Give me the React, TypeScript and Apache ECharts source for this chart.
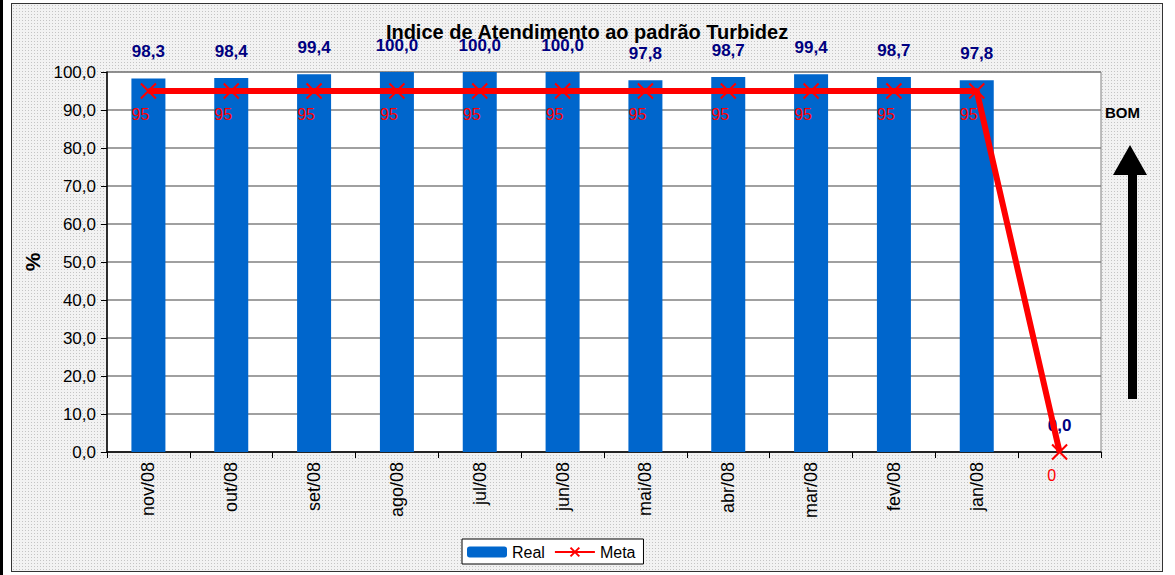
import React, { useEffect, useRef } from "react";
import * as echarts from "echarts";

const categories = ["nov/08", "out/08", "set/08", "ago/08", "jul/08", "jun/08", "mai/08", "abr/08", "mar/08", "fev/08", "jan/08", ""];
const realValues = [98.3, 98.4, 99.4, 100.0, 100.0, 100.0, 97.8, 98.7, 99.4, 98.7, 97.8, 0.0];
const metaValues = [95, 95, 95, 95, 95, 95, 95, 95, 95, 95, 95, 0];
const chartTitle = "Indice de Atendimento ao padrão Turbidez";

const FONT = "'Liberation Sans', Arial, sans-serif";
const fmt1 = (v: number) => Number(v).toFixed(1).replace(".", ",");

export default function App() {
  const ref = useRef<HTMLDivElement>(null);
  useEffect(() => {
    if (!ref.current) return;
    const chart = echarts.init(ref.current, undefined, { renderer: "svg" });
    chart.setOption({
      animation: false,
      backgroundColor: "transparent",
      textStyle: { fontFamily: FONT },
      title: {
        text: chartTitle,
        left: 587,
        textAlign: "center",
        top: 22,
        padding: 0,
        textStyle: { fontFamily: FONT, fontSize: 20, fontWeight: "bold", color: "#000" },
        z: 10,
      },
      legend: {
        left: 462,
        top: 539,
        padding: [5, 8, 4, 5],
        itemWidth: 40,
        itemHeight: 11,
        itemGap: 9,
        borderColor: "#000",
        borderWidth: 1,
        backgroundColor: "#fff",
        textStyle: { fontFamily: FONT, fontSize: 16, color: "#000", padding: [0, 0, 0, 0] },
        data: ["Real", "Meta"],
      },
      grid: {
        left: 107,
        right: 74,
        top: 72,
        bottom: 123,
        show: true,
        backgroundColor: "#fff",
        borderColor: "#808080",
        borderWidth: 1,
      },
      xAxis: {
        type: "category",
        data: categories,
        boundaryGap: true,
        axisLine: { lineStyle: { color: "#000", width: 1.5 } },
        axisTick: { show: true, alignWithLabel: false, length: 6, lineStyle: { color: "#000" } },
        axisLabel: {
          rotate: 90,
          interval: 0,
          margin: 10,
          fontFamily: FONT,
          fontSize: 18,
          color: "#000",
        },
      },
      yAxis: {
        type: "value",
        min: 0,
        max: 100,
        interval: 10,
        name: "%",
        nameLocation: "middle",
        nameRotate: 90,
        nameGap: 64,
        nameTextStyle: { fontFamily: FONT, fontSize: 21, fontWeight: "bold", color: "#000" },
        axisLine: { show: true, lineStyle: { color: "#000", width: 1.5 } },
        axisTick: { show: true, inside: false, length: 6, lineStyle: { color: "#000" } },
        axisLabel: {
          formatter: (v: number) => fmt1(v),
          fontFamily: FONT,
          fontSize: 17,
          color: "#000",
          margin: 11,
        },
        splitLine: { show: true, lineStyle: { color: "#808080", width: 1.5 } },
      },
      series: [
        {
          name: "Real",
          type: "bar",
          data: realValues,
          barWidth: 34,
          itemStyle: { color: "#0066CC" },
          label: {
            show: true,
            position: "top",
            distance: 18,
            formatter: (p: any) => fmt1(p.value),
            fontFamily: FONT,
            fontSize: 17,
            fontWeight: "bold",
            color: "#000080",
          },
          z: 2,
        },
        {
          name: "Meta",
          type: "line",
          data: metaValues,
          symbol: "path://M0,0L10,10M10,0L0,10",
          symbolSize: 15,
          showSymbol: true,
          lineStyle: { color: "#FF0000", width: 6 },
          itemStyle: { color: "transparent", borderColor: "#FF0000", borderWidth: 2 },
          label: {
            show: true,
            position: "bottom",
            distance: 7,
            offset: [-8, 0],
            formatter: (p: any) => String(p.value),
            fontFamily: FONT,
            fontSize: 16,
            color: "#FF0000",
          },
          z: 3,
        },
      ],
      graphic: [
        {
          type: "text",
          left: 1105,
          top: 105,
          style: { text: "BOM", font: `bold 15px ${FONT}`, fill: "#000" },
        },
        {
          type: "polygon",
          shape: {
            points: [
              [1130, 145],
              [1147, 175],
              [1137, 175],
              [1137, 399],
              [1128, 399],
              [1128, 175],
              [1113, 175],
            ],
          },
          style: { fill: "#000" },
        },
      ],
    });
    return () => chart.dispose();
  }, []);

  return (
    <div style={{ position: "fixed", left: 0, top: 0, width: 1175, height: 575, background: "#fff" }}>
      <div style={{ position: "absolute", left: 0, top: 0, width: 3, height: 575, background: "#000" }} />
      <div
        style={{
          position: "absolute",
          left: 11,
          top: 3,
          width: 1150,
          height: 567,
          border: "1.5px solid #333",
          backgroundColor: "#f2f2f2",
          backgroundImage: "radial-gradient(#c4c4c4 0.8px, transparent 0.9px)",
          backgroundSize: "3px 3px",
        }}
      />
      <div ref={ref} style={{ position: "absolute", left: 0, top: 0, width: 1175, height: 575 }} />
    </div>
  );
}
